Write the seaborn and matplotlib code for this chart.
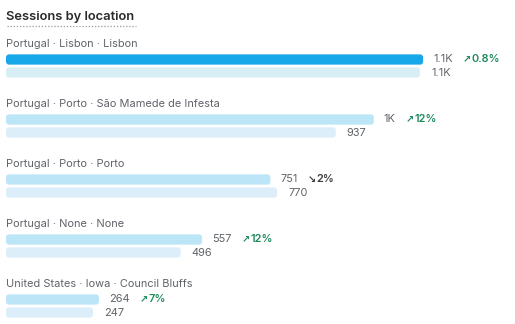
import numpy as np
import pandas as pd
import matplotlib
matplotlib.use("Agg")
import matplotlib.pyplot as plt
import seaborn as sns
from matplotlib.patches import FancyBboxPatch

# ---- data ----
locations = [
    "Portugal · Lisbon · Lisbon",
    "Portugal · Porto · São Mamede de Infesta",
    "Portugal · Porto · Porto",
    "Portugal · None · None",
    "United States · Iowa · Council Bluffs",
]
current = [1185, 1045, 751, 557, 264]
previous = [1176, 937, 770, 496, 247]
title = "Sessions by location"

# ---- layout (pixel geometry) ----
W, H = 515, 324
X0 = 6          # bars start (px)
PX_PER = 0.352  # px per session
GROUP_GAP = 60
LABEL_Y0 = 44
CUR_Y0 = 59.5
PREV_Y0 = 72.5

sns.set_theme(style="white")
plt.rcParams["font.family"] = ["Inter", "DejaVu Sans"]

rows = []
for i, (loc, c, p) in enumerate(zip(locations, current, previous)):
    rows.append(dict(pos=CUR_Y0 + i * GROUP_GAP, value=c, key=f"c{i}"))
    rows.append(dict(pos=PREV_Y0 + i * GROUP_GAP, value=p, key=f"p{i}"))
df = pd.DataFrame(rows)

palette = {}
for i in range(len(locations)):
    palette[f"c{i}"] = "#17A8EA" if i == 0 else "#BDE5F8"
    palette[f"p{i}"] = "#D8EEF5" if i == 0 else "#DCEEF9"

fig = plt.figure(figsize=(W / 100, H / 100), dpi=100)
ax = fig.add_axes([0, 0, 1, 1])
sns.barplot(data=df, x="value", y="pos", hue="key", palette=palette, orient="h",
            native_scale=True, dodge=False, width=0.79, legend=False, ax=ax,
            saturation=1)

xmin = -X0 / PX_PER
xmax = (W - X0) / PX_PER
ax.set_xlim(xmin, xmax)
ax.set_ylim(H, 0)
ax.axis("off")

# rounded corners
for patch in list(ax.patches):
    x, y = patch.get_x(), patch.get_y()
    w, h = patch.get_width(), patch.get_height()
    if w <= 0:
        continue
    fc = patch.get_facecolor()
    patch.remove()
    r = 3 / PX_PER
    fb = FancyBboxPatch((x, min(y, y + h)), w, abs(h),
                        boxstyle=f"round,pad=0,rounding_size={r}",
                        mutation_aspect=PX_PER, facecolor=fc, edgecolor="none")
    ax.add_patch(fb)

def fmt(v):
    if v >= 1000:
        return f"{int(v / 100) / 10:g}K"
    return str(v)

def fmt_pct(c, p):
    d = (c / p - 1) * 100
    a = abs(d)
    s = f"{a:.1f}%" if a < 1 else f"{round(a)}%"
    return d, s

fig.canvas.draw()
renderer = fig.canvas.get_renderer()
inv = ax.transData.inverted()

GRAY = "#5f6368"
GREEN = "#1E8A5C"
DARK = "#3c3c3c"
FS = 7.9

# title
ax.text(0.5 / PX_PER, 17, title, fontsize=9.3, fontweight="semibold", color="#2b2b2b",
        va="center", ha="left")
ax.plot([1 / PX_PER, 130 / PX_PER], [26, 26], color="#9a9a9a", lw=0.9,
        ls=(0, (1, 1.5)))

for i, (loc, c, p) in enumerate(zip(locations, current, previous)):
    ax.text(0, LABEL_Y0 + i * GROUP_GAP, loc, fontsize=FS, color=GRAY,
            va="center", ha="left")
    cy = CUR_Y0 + i * GROUP_GAP
    py = PREV_Y0 + i * GROUP_GAP
    t = ax.text(c + 10 / PX_PER, cy, fmt(c), fontsize=FS, color=GRAY,
                va="center", ha="left")
    ax.text(p + 11 / PX_PER, py + 0.5, fmt(p), fontsize=FS, color=GRAY,
            va="center", ha="left")
    bb = t.get_window_extent(renderer)
    x_end = inv.transform((bb.x1, 0))[0]
    d, s = fmt_pct(c, p)
    col = GREEN if d > 0 else DARK
    arrow = "↗" if d > 0 else "↘"
    xa = x_end + 10 / PX_PER
    ax.text(xa, cy, arrow, fontsize=7, color=col, fontweight="bold",
            va="center", ha="left", family=["DejaVu Sans"])
    ax.text(xa + 8.5 / PX_PER, cy, s, fontsize=FS, color=col, fontweight="semibold",
            va="center", ha="left")

fig.savefig("out.png", dpi=100, facecolor="white")
